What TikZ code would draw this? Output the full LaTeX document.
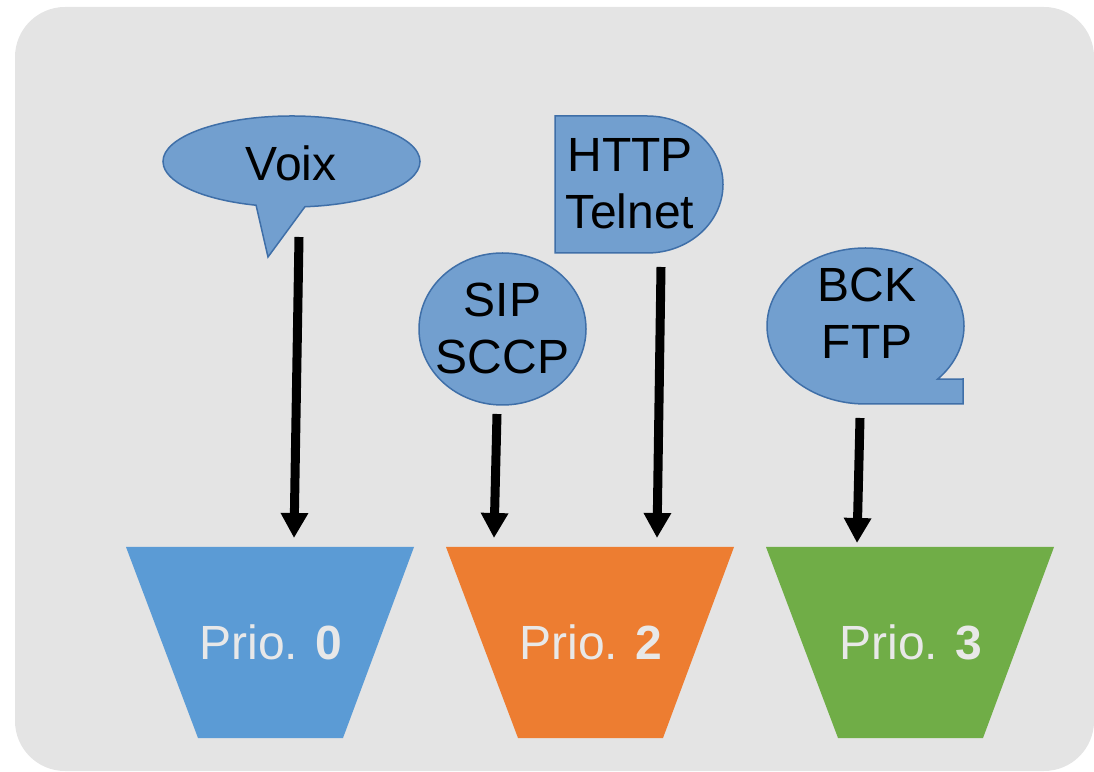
\documentclass[tikz,border=0pt]{standalone}
\usepackage{fontspec}
\setmainfont{Liberation Sans}
\usetikzlibrary{arrows.meta,calc}
\definecolor{backdrop}{HTML}{E4E4E4}
\definecolor{bubblefill}{HTML}{729FCF}
\definecolor{bubbleline}{HTML}{3F6FA8}
\definecolor{queueblue}{HTML}{5B9BD5}
\definecolor{queueorange}{HTML}{ED7D31}
\definecolor{queuegreen}{HTML}{70AD47}
\definecolor{queuetext}{HTML}{E8E8E8}
\tikzset{
bubble/.style={fill=bubblefill,draw=bubbleline,line width=1.5pt},
bubbletext/.style={font=\fontsize{48}{57}\selectfont,align=center,inner sep=0pt},
queuename/.style={text=queuetext,inner sep=0pt,font=\fontsize{48}{57}\selectfont},
flow/.style={line width=9pt,-{Triangle[width=26pt,length=25pt]}},
}

\begin{document}
\begin{tikzpicture}[x=1pt,y=1pt]
\useasboundingbox (0,0) rectangle (1094,771);
\fill[backdrop,rounded corners=50pt] (15,0) rectangle (1094,764);

% bubbles
\draw[bubble] (268,514) -- ($(291.5,609.5)+(-84:128.5 and 45.5)$)
  arc[start angle=-84,end angle=254,x radius=128.5,y radius=45.5] -- cycle;
\draw[bubble] (502.5,442) ellipse [x radius=83.5,y radius=76];
\draw[bubble] (555,655) -- (647,655)
  arc[start angle=90,end angle=-90,x radius=76,y radius=68.5] -- (555,518) -- cycle;
\draw[bubble] (865.5,367)
  arc[start angle=270,end angle=-43,x radius=98.5,y radius=78] -- (963,392) -- (963,367) -- cycle;

\node[bubbletext] (voix) at (291,608) {Voix};
\node[bubbletext] (sip) at (502.5,443) {SIP\\SCCP};
\node[bubbletext] (http) at (630,587) {HTTP\\Telnet};
\node[bubbletext] (bck) at (867,458) {BCK\\FTP};

% queues
\fill[queueblue] (126,224) -- (414,224) -- (343,33) -- (198,33) -- cycle;
\fill[queueorange] (446,224) -- (734,224) -- (663,33) -- (518,33) -- cycle;
\fill[queuegreen] (766,224) -- (1054,224) -- (983,33) -- (838,33) -- cycle;
\node[queuename] (prio0) at (271,128.5) {Prio. \textbf{0}};
\node[queuename] (prio2) at (591,128.5) {Prio. \textbf{2}};
\node[queuename] (prio3) at (911,128.5) {Prio. \textbf{3}};

% arrows
\coordinate (voixfoot) at (299,534);
\coordinate (sipfoot) at (497,357);
\coordinate (httpfoot) at (661,504);
\coordinate (bckfoot) at (860,353);
\coordinate (voixin) at (294,233);
\coordinate (sipin) at (494,233);
\coordinate (httpin) at (657,233);
\coordinate (bckin) at (857,228);
\draw[flow] (voixfoot) -- (voixin);
\draw[flow] (sipfoot) -- (sipin);
\draw[flow] (httpfoot) -- (httpin);
\draw[flow] (bckfoot) -- (bckin);
\end{tikzpicture}
\end{document}
